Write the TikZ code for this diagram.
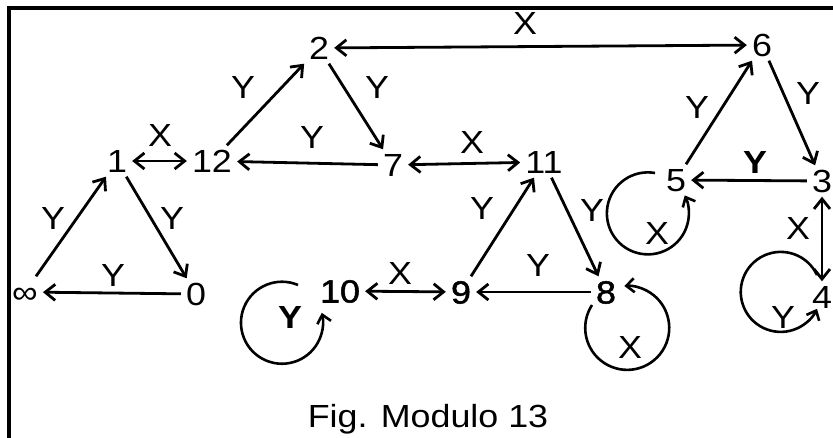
\documentclass[tikz,border=0pt]{standalone}
\usepackage{fontspec}
\setmainfont{Liberation Sans}[FakeStretch=1.12]
\newfontfamily\semibfont{Liberation Sans}[FakeStretch=1.12, FakeBold=1.6]
\usetikzlibrary{arrows.meta}
\begin{document}
\begin{tikzpicture}[x=1pt,y=1pt,
  vtx/.style={font=\fontsize{32}{32}\selectfont, text height=23pt, text depth=0pt, inner xsep=5pt, inner ysep=4pt},
  bvtx/.style={vtx, font=\fontsize{32}{32}\semibfont},
  lbl/.style={font=\fontsize{32}{32}\selectfont, text height=23pt, text depth=0pt, inner sep=0pt},
  blbl/.style={lbl, font=\fontsize{32}{32}\selectfont\bfseries},
  conn/.style={line width=2.8pt, -{Straight Barb[length=10pt,width=16pt]}},
  bconn/.style={line width=2.8pt, {Straight Barb[length=10pt,width=16pt]}-{Straight Barb[length=10pt,width=16pt]}},
  loopconn/.style={line width=2.6pt, -{Straight Barb[length=8pt,width=14pt]}}
]
\useasboundingbox (0,0) rectangle (833,-438);
\clip (0,0) rectangle (833,-438);
\fill[white] (0,0) rectangle (833,-438);
\draw[line width=3.2pt] (9,-600) -- (9,-8) -- (1000,-8);

% vertices
\node[vtx] (inf) at (25,-292) {∞};
\node[vtx] (n0) at (196,-294) {0};
\node[vtx] (n1) at (117,-161) {1};
\node[vtx] (n12) at (212,-161) {12};
\node[vtx] (n2) at (319,-48) {2};
\node[vtx] (n7) at (393,-165) {7};
\node[vtx] (n11) at (544,-162) {11};
\node[vtx] (n6) at (762,-45) {6};
\node[vtx] (n5) at (676,-180) {5};
\node[vtx] (n3) at (822,-181) {3};
\node[vtx] (n4) at (822,-297) {4};
\node[bvtx] (n10) at (340,-291) {10};
\node[bvtx] (n9) at (461,-292) {9};
\node[bvtx] (n8) at (606,-292) {8};

% connectors
\draw[bconn] (n1) -- (n12);
\draw[conn] (n12) -- (n2);
\draw[conn] (n2) -- (n7);
\draw[conn] (n7) -- (n12);
\draw[bconn] (n7) -- (n11);
\draw[bconn] (n2) -- (n6);
\draw[conn] (n5) -- (n6);
\draw[conn] (n6) -- (n3);
\draw[conn] (n3) -- (n5);
\draw[bconn] (n3) -- (n4);
\draw[conn] (n9) -- (n11);
\draw[conn] (n11) -- (n8);
\draw[conn] (n8) -- (n9);
\draw[bconn] (n10) -- (n9);
\draw[conn] (inf) -- (n1);
\draw[conn] (n1) -- (n0);
\draw[conn] (n0) -- (inf);

% loops
\draw[loopconn] (n10) ++(-42,6) arc[start angle=67, end angle=374, radius=41];
\draw[loopconn] (n5) ++(-21,7) arc[start angle=80, end angle=386, radius=41];
\draw[loopconn] (n8) ++(-14,-13) arc[start angle=147, end angle=454, radius=42];
\draw[loopconn] (n4) ++(-5,22) arc[start angle=25, end angle=335, radius=40];

% labels
\node[lbl] (l1) at (160,-135) {X};
\node[lbl] (l2) at (243,-87) {Y};
\node[lbl] (l3) at (377,-87) {Y};
\node[lbl] (l4) at (312,-137) {Y};
\node[lbl] (l5) at (472,-142) {X};
\node[lbl] (l6) at (525,-23) {X};
\node[lbl] (l7) at (697,-107) {Y};
\node[lbl] (l8) at (808,-93) {Y};
\node[blbl] (l9) at (755,-162) {Y};
\node[lbl] (l10) at (798,-228) {X};
\node[lbl] (l11) at (783,-317) {Y};
\node[lbl] (l12) at (657,-233) {X};
\node[lbl] (l13) at (482,-208) {Y};
\node[lbl] (l14) at (592,-210) {Y};
\node[lbl] (l15) at (538,-265) {Y};
\node[lbl] (l16) at (630,-347) {X};
\node[lbl] (l17) at (400,-273) {X};
\node[blbl] (l18) at (290,-317) {Y};
\node[lbl] (l19) at (53,-218) {Y};
\node[lbl] (l20) at (172,-218) {Y};
\node[lbl] (l21) at (113,-275) {Y};

\node[font=\fontsize{32}{32}\selectfont, anchor=base, inner sep=0pt] (cap) at (428,-428) {Fig. Modulo 13};
\end{tikzpicture}
\end{document}
